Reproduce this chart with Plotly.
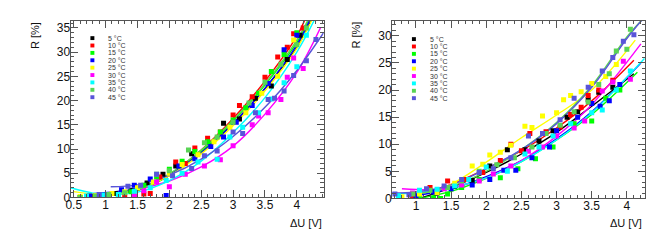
import plotly.graph_objects as go

W, H = 654, 247

temps = ["5 °C", "10 °C", "15 °C", "20 °C", "25 °C", "30 °C", "35 °C", "40 °C", "45 °C"]
colors = ["#000000", "#ff0000", "#00ff00", "#0000ff", "#ffff00", "#ff00ff", "#00ffff", "#59d454", "#5954d9"]

# ---------------- Left panel data ----------------
L_x = [
    [0.85, 1.15, 1.4, 1.65, 1.9, 2.1, 2.35, 2.6, 2.85, 3.1, 3.35, 3.6, 3.85, 4.05],
    [0.6, 0.8, 1.05, 1.3, 1.45, 1.6, 1.7, 1.85, 2.1, 2.25, 2.4, 2.6, 2.8, 3.0, 3.1, 3.3, 3.5, 3.7, 3.85, 3.95, 4.1],
    [0.6, 0.8, 1.0, 1.2, 1.4, 1.6, 1.8, 2.0, 2.2, 2.4, 2.6, 2.8, 3.0, 3.2, 3.4, 3.6, 3.8, 4.0],
    [0.75, 1.0, 1.25, 1.45, 1.7, 1.95, 2.15, 2.4, 2.65, 2.85, 3.05, 3.3, 3.55, 3.8, 4.0],
    [0.6, 0.85, 1.1, 1.3, 1.5, 1.75, 2.0, 2.2, 2.45, 2.7, 2.95, 3.2, 3.45, 3.7, 3.95],
    [1.45, 1.6, 1.8, 2.0, 2.25, 2.55, 2.8, 3.0, 3.3, 3.4, 3.55, 3.75, 3.85, 3.95, 4.1],
    [0.7, 0.95, 1.2, 1.45, 1.7, 1.95, 2.2, 2.45, 2.75, 2.95, 3.15, 3.4, 3.6, 3.8, 4.0, 4.15],
    [0.6, 0.85, 1.05, 1.3, 1.55, 1.8, 2.0, 2.3, 2.55, 2.75, 3.0, 3.25, 3.5, 3.75, 4.0, 4.15],
    [0.9, 1.35, 1.55, 1.8, 2.05, 2.35, 2.55, 2.75, 3.0, 3.15, 3.35, 3.55, 3.65, 3.8, 3.95, 4.15, 4.3],
]
L_y = [
    [0.3, 0.8, 1.5, 3.0, 4.8, 6.5, 9.0, 11.5, 15.3, 16.2, 20.5, 23.0, 28.5, 33.5],
    [0.0, 0.0, 0.0, 0.2, 0.3, 0.7, 0.8, 4.2, 7.3, 7.0, 10.2, 12.2, 13.5, 17.0, 19.0, 20.8, 24.8, 29.0, 31.0, 33.8, 35.0],
    [0.0, 0.2, 0.4, 0.6, 1.2, 2.5, 4.2, 5.8, 7.5, 9.5, 11.5, 13.5, 16.0, 18.5, 21.5, 26.0, 29.5, 34.0],
    [0.3, 0.6, 1.6, 2.5, 3.8, 0.4, 6.5, 8.0, 10.5, 12.5, 15.5, 19.0, 23.5, 30.5, 33.5],
    [0.2, 0.4, 0.8, 1.2, 2.0, 3.2, 5.0, 6.8, 8.8, 11.5, 14.5, 17.5, 21.5, 25.0, 32.5],
    [0.3, 1.4, 3.2, 2.2, 4.8, 6.5, 7.8, 10.7, 15.0, 16.8, 17.5, 20.2, 24.8, 28.8, 26.6],
    [0.3, 0.5, 0.6, 1.3, 2.0, 3.5, 5.0, 7.3, 7.9, 12.5, 14.5, 17.5, 20.3, 23.7, 27.0, 33.5],
    [0.0, 0.3, 0.6, 1.0, 2.3, 4.8, 5.5, 9.8, 11.3, 12.5, 15.5, 19.5, 23.8, 27.5, 31.5, 35.0],
    [0.6, 2.3, 2.5, 4.8, 4.5, 6.0, 8.6, 9.6, 13.5, 13.2, 17.5, 20.2, 20.5, 22.0, 25.2, 28.2, 32.6],
]
L_fx = [
    [0.9, 1.5, 2.0, 2.5, 3.0, 3.5, 4.0, 4.22],
    [0.9, 1.5, 2.0, 2.5, 3.0, 3.5, 4.0, 4.12],
    [0.7, 1.5, 2.0, 2.5, 3.0, 3.5, 4.0, 4.18],
    [0.8, 1.5, 2.0, 2.5, 3.0, 3.5, 4.0, 4.2],
    [0.5, 1.0, 1.5, 2.0, 2.5, 3.0, 3.5, 4.0, 4.23],
    [1.45, 2.0, 2.5, 3.0, 3.5, 4.0, 4.37],
    [0.45, 0.8, 1.0, 1.5, 2.0, 2.5, 3.0, 3.5, 4.0, 4.27],
    [0.7, 1.5, 2.0, 2.5, 3.0, 3.5, 4.0, 4.17],
    [1.08, 1.5, 2.0, 2.5, 3.0, 3.5, 4.0, 4.42],
]
L_fy = [
    [0.6, 1.6, 4.5, 9.3, 15.3, 22.5, 31.0, 36.5],
    [0.3, 1.4, 4.7, 9.8, 16.3, 24.0, 33.3, 36.5],
    [0.5, 1.5, 4.6, 9.5, 15.8, 23.2, 32.0, 36.5],
    [0.8, 1.9, 4.7, 9.2, 15.2, 22.5, 31.5, 36.5],
    [1.2, 0.6, 1.7, 4.5, 9.0, 14.8, 22.0, 30.8, 36.5],
    [1.5, 3.4, 6.3, 10.6, 17.2, 25.8, 35.0],
    [2.0, 0.9, 0.6, 1.1, 3.5, 7.5, 13.4, 20.6, 30.0, 36.5],
    [0.6, 1.7, 4.9, 9.8, 16.0, 23.5, 32.5, 36.5],
    [2.2, 2.6, 4.6, 7.9, 12.6, 18.6, 26.2, 34.0],
]

# ---------------- Right panel data ----------------
R_x = [
    [1.05, 1.3, 1.55, 1.8, 2.05, 2.3, 2.55, 2.75, 2.95, 3.15, 3.3, 3.45, 3.6, 3.8],
    [0.95, 1.2, 1.45, 1.7, 1.95, 2.2, 2.35, 2.5, 2.62, 2.85, 3.05, 3.2, 3.35, 3.45, 3.6, 3.8],
    [1.05, 1.25, 1.35, 1.45, 1.65, 1.9, 2.2, 2.45, 2.7, 2.95, 3.25, 3.5, 3.7, 3.9],
    [1.0, 1.25, 1.5, 1.8, 2.05, 2.25, 2.42, 2.65, 2.9, 3.0, 3.3, 3.5, 3.62, 3.75, 3.9],
    [0.8, 1.05, 1.3, 1.55, 1.8, 1.95, 2.05, 2.2, 2.35, 2.55, 2.65, 2.8, 3.0, 3.1, 3.2, 3.35, 3.5, 3.7, 3.85],
    [0.95, 1.4, 1.65, 1.9, 2.1, 2.35, 2.6, 2.8, 3.0, 3.25, 3.4, 3.65, 3.8, 3.95, 4.05],
    [0.75, 1.05, 1.3, 1.55, 1.75, 2.0, 2.3, 2.55, 2.75, 2.95, 3.2, 3.5, 3.65, 3.85, 4.05],
    [0.95, 1.2, 1.45, 1.65, 1.9, 2.15, 2.4, 2.65, 2.85, 3.05, 3.25, 3.45, 3.6, 3.75, 3.85, 4.0, 4.05],
    [0.7, 0.9, 1.15, 1.4, 1.65, 1.9, 2.1, 2.35, 2.6, 2.8, 3.05, 3.25, 3.45, 3.65, 3.8, 3.95, 4.1],
]
R_y = [
    [0.2, 1.0, 2.2, 3.3, 6.0, 9.0, 9.0, 10.6, 12.5, 15.0, 16.0, 18.2, 19.6, 20.5],
    [0.5, 2.0, 3.2, 3.5, 4.8, 7.0, 10.0, 8.8, 12.0, 12.3, 13.2, 15.5, 16.8, 19.0, 20.0, 21.8],
    [0.0, 0.0, 0.0, 0.8, 2.0, 3.5, 3.8, 5.5, 7.3, 9.5, 13.8, 14.3, 18.5, 20.0],
    [0.5, 1.2, 1.8, 2.5, 3.5, 5.2, 5.2, 7.5, 9.5, 12.5, 15.0, 17.5, 17.0, 18.0, 21.0],
    [0.3, 0.8, 1.1, 2.8, 6.0, 6.3, 8.0, 8.5, 9.8, 13.3, 13.1, 15.2, 15.8, 18.2, 19.0, 19.7, 21.2, 22.5, 24.7],
    [1.0, 1.8, 2.5, 3.2, 4.5, 6.0, 8.7, 9.5, 11.5, 13.0, 14.3, 19.8, 21.5, 25.3, 22.0],
    [0.5, 1.5, 1.7, 2.3, 3.5, 5.8, 5.0, 8.2, 9.5, 11.5, 13.8, 15.8, 16.3, 20.0, 23.5],
    [0.8, 1.5, 2.0, 3.2, 5.0, 6.2, 7.5, 9.5, 12.0, 13.5, 16.0, 17.8, 21.0, 23.0, 27.2, 27.5, 31.2],
    [0.8, 0.7, 1.8, 2.3, 3.5, 4.8, 5.5, 7.5, 11.5, 12.0, 14.5, 18.5, 20.5, 23.5, 26.0, 29.0, 30.2],
]
R_fx = [
    [1.05, 1.5, 2.0, 2.5, 3.0, 3.5, 4.1],
    [0.9, 1.5, 2.0, 2.5, 3.0, 3.5, 4.1],
    [1.05, 1.5, 2.0, 2.5, 3.0, 3.5, 4.15],
    [1.0, 1.5, 2.0, 2.5, 3.0, 3.5, 4.2],
    [1.2, 1.5, 2.0, 2.5, 3.0, 3.5, 4.12],
    [0.8, 1.2, 1.5, 2.0, 2.5, 3.0, 3.5, 4.2],
    [0.66, 1.0, 1.5, 2.0, 2.5, 3.0, 3.5, 4.25],
    [1.0, 1.5, 2.0, 2.5, 3.0, 3.5, 4.0, 4.22],
    [0.66, 1.0, 1.5, 2.0, 2.5, 3.0, 3.5, 4.0, 4.22],
]
R_fy = [
    [0.0, 2.0, 4.8, 8.2, 12.2, 17.0, 23.0],
    [0.3, 2.6, 5.5, 8.8, 13.0, 18.0, 25.5],
    [0.0, 1.3, 3.7, 6.8, 10.8, 15.5, 23.3],
    [0.5, 1.8, 4.0, 7.0, 11.0, 16.0, 25.0],
    [1.0, 2.6, 6.7, 11.2, 15.4, 20.0, 29.2],
    [1.8, 1.6, 2.0, 3.8, 7.0, 11.5, 17.3, 28.5],
    [0.9, 1.0, 2.0, 3.8, 6.8, 10.8, 15.8, 25.8],
    [0.8, 2.2, 5.0, 9.0, 14.0, 20.8, 29.8, 33.0],
    [1.0, 1.2, 2.5, 5.5, 9.0, 13.8, 20.5, 29.5, 33.0],
]

def px(x):
    return x / W

def py(y):
    return 1 - y / H

FONT = "Liberation Sans, Arial, sans-serif"

fig = go.Figure()

panels = [
    dict(xs=L_x, ys=L_y, fxs=L_fx, fys=L_fy, xa="x", ya="y"),
    dict(xs=R_x, ys=R_y, fxs=R_fx, fys=R_fy, xa="x2", ya="y2"),
]
for p in panels:
    for i in range(len(temps)):
        fig.add_trace(go.Scatter(x=p["fxs"][i], y=p["fys"][i], mode="lines",
                                 line=dict(color=colors[i], width=1.4, shape="spline"),
                                 xaxis=p["xa"], yaxis=p["ya"], showlegend=False, hoverinfo="skip"))
    for i in range(len(temps)):
        fig.add_trace(go.Scatter(x=p["xs"][i], y=p["ys"][i], mode="markers",
                                 marker=dict(symbol="square", size=5, color=colors[i], line=dict(width=0)),
                                 xaxis=p["xa"], yaxis=p["ya"], showlegend=False, name=temps[i]))

AX = "#555555"
axis_common = dict(ticks="inside", showline=True, linecolor=AX, linewidth=1, mirror="allticks",
                   ticklen=7, tickwidth=1, tickcolor=AX, showgrid=False, zeroline=False,
                   tickfont=dict(family=FONT, size=12, color="#111"))
minor_common = dict(ticks="inside", ticklen=3.5, tickwidth=1, tickcolor=AX, showgrid=False)

fig.update_layout(
    width=W, height=H, margin=dict(l=0, r=0, t=0, b=0),
    paper_bgcolor="white", plot_bgcolor="white", showlegend=False,
    xaxis=dict(domain=[px(58), px(313)], range=[0.45, 4.42], anchor="y", tick0=0.5, dtick=0.5,
               ticklabelstandoff=-4,
               minor=dict(dtick=0.1, **minor_common), **axis_common),
    yaxis=dict(domain=[py(195), py(13)], range=[0, 36.5], anchor="x", tick0=0, dtick=5,
               ticklabelstandoff=-3,
               minor=dict(dtick=1, **minor_common), **axis_common),
    xaxis2=dict(domain=[px(382), px(637)], range=[0.66, 4.26], anchor="y2", tick0=0.5, dtick=0.5,
                ticklabelstandoff=-4,
                minor=dict(dtick=0.1, **minor_common), **axis_common),
    yaxis2=dict(domain=[py(196), py(13)], range=[0, 32.8], anchor="x2", tick0=0, dtick=5,
                ticklabelstandoff=-3,
                minor=dict(dtick=1, **minor_common), **axis_common),
)

annotations = []
shapes = []
# axis titles
for xr, xt in [(313, 221), (636, 221)]:
    annotations.append(dict(text="ΔU [V]", xref="paper", yref="paper", x=px(xr), y=py(xt),
                            xanchor="right", yanchor="middle", showarrow=False,
                            font=dict(family=FONT, size=11, color="#111")))
for xc in [22, 346]:
    annotations.append(dict(text="R [%]", xref="paper", yref="paper", x=px(xc), y=py(12),
                            xanchor="center", yanchor="top", textangle=-90, showarrow=False,
                            font=dict(family=FONT, size=11, color="#111")))

# legends (layout decoration)
for mx, tx, top in [(80, 94, 31), (404, 418, 32)]:
    step = 7.6
    for i, t in enumerate(temps):
        yc = top + i * step
        shapes.append(dict(type="rect", xref="paper", yref="paper",
                           x0=px(mx - 2), x1=px(mx + 2), y0=py(yc + 2), y1=py(yc - 2),
                           fillcolor=colors[i], line=dict(width=0)))
        annotations.append(dict(text=t, xref="paper", yref="paper", x=px(tx), y=py(yc),
                                xanchor="left", yanchor="middle", showarrow=False,
                                font=dict(family=FONT, size=7, color="#333")))

fig.update_layout(annotations=annotations, shapes=shapes)
fig.write_html("out.html")
